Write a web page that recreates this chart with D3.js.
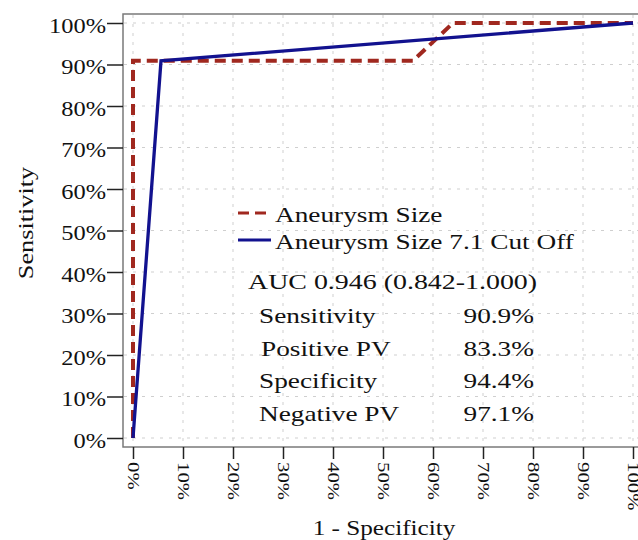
<!DOCTYPE html>
<html>
  <head>
    <meta charset="utf-8">
    <title>ROC Aneurysm Size</title>
    <script src="https://d3js.org/d3.v7.min.js"></script>
    <style>
      body { margin: 0; background: #fff; }
      svg text { font-family: "Liberation Serif", "Times New Roman", serif; fill: #111; }
    </style>
  </head>
  <body>
    <script>
      // ROC curves
      var seriesNames = ["Aneurysm Size", "Aneurysm Size 7.1 Cut Off"];
      var fprSize = [0, 0, 0.56, 0.64, 1];
      var tprSize = [0, 0.909, 0.909, 1, 1];
      var fprCut = [0, 0.056, 1];
      var tprCut = [0, 0.909, 1];

      var ticks = [0, 0.1, 0.2, 0.3, 0.4, 0.5, 0.6, 0.7, 0.8, 0.9, 1];
      var aucText = "AUC 0.946 (0.842-1.000)";
      var statLabels = ["Sensitivity", "Positive PV", "Specificity", "Negative PV"];
      var statValues = ["90.9%", "83.3%", "94.4%", "97.1%"];

      var width = 638, height = 540;
      var red = "#a0281f", blue = "#12128f";

      var svg = d3.select("body").append("svg")
        .attr("width", width)
        .attr("height", height);

      var x = d3.scaleLinear().domain([0, 1]).range([133, 633]);
      var y = d3.scaleLinear().domain([0, 1]).range([438, 23]);

      // grid
      var grid = svg.append("g").attr("stroke", "#cfcfcf").attr("stroke-dasharray", "3,6");
      grid.selectAll(".h").data(ticks).enter().append("line")
        .attr("x1", 124).attr("x2", 638)
        .attr("y1", function(d) { return y(d); })
        .attr("y2", function(d) { return y(d); });
      grid.selectAll(".v").data(ticks).enter().append("line")
        .attr("y1", 15).attr("y2", 446)
        .attr("x1", function(d) { return x(d); })
        .attr("x2", function(d) { return x(d); });

      // frame
      svg.append("rect")
        .attr("x", 123).attr("y", 14)
        .attr("width", 520).attr("height", 433)
        .attr("fill", "none")
        .attr("stroke", "#7a7a7a")
        .attr("stroke-width", 1.5);

      var fmt = d3.format(".0%");

      var yAxis = svg.append("g")
        .attr("transform", "translate(123,0)")
        .call(d3.axisLeft(y).tickValues(ticks).tickSize(16).tickFormat(fmt));
      yAxis.select(".domain").remove();
      yAxis.selectAll("line").attr("stroke", "#222").attr("stroke-width", 1.5);
      yAxis.selectAll("text")
        .attr("x", null).attr("dy", "0.45em")
        .attr("font-size", 20)
        .attr("text-anchor", "end")
        .attr("transform", "translate(-17,0) scale(1.22,1)");

      var xAxis = svg.append("g")
        .attr("transform", "translate(0,447)")
        .call(d3.axisBottom(x).tickValues(ticks).tickSize(12).tickFormat(fmt));
      xAxis.select(".domain").remove();
      xAxis.selectAll("line").attr("stroke", "#222").attr("stroke-width", 1.5);
      xAxis.selectAll("text")
        .attr("y", null).attr("dy", "0.35em")
        .attr("font-size", 16)
        .attr("text-anchor", "start")
        .attr("transform", "translate(0,15) rotate(90) scale(1.3,1)");

      // axis titles
      svg.append("text")
        .attr("font-size", 21)
        .attr("text-anchor", "middle")
        .attr("transform", "translate(33,223) rotate(-90) scale(1.25,1)")
        .text("Sensitivity");
      svg.append("text")
        .attr("font-size", 21)
        .attr("text-anchor", "middle")
        .attr("transform", "translate(384,535) scale(1.2,1)")
        .text("1 - Specificity");

      // curves
      var line = d3.line()
        .x(function(d) { return x(d[0]); })
        .y(function(d) { return y(d[1]); });

      svg.append("path")
        .datum(d3.zip(fprSize, tprSize))
        .attr("d", line)
        .attr("fill", "none")
        .attr("stroke", red)
        .attr("stroke-width", 4)
        .attr("stroke-dasharray", "11,6");

      svg.append("path")
        .datum(d3.zip(fprCut, tprCut))
        .attr("d", line)
        .attr("fill", "none")
        .attr("stroke", blue)
        .attr("stroke-width", 3.3);

      // legend
      var legend = svg.append("g");
      var legendY = [213, 240];
      legend.selectAll("line").data(seriesNames).enter().append("line")
        .attr("x1", 238).attr("x2", 271)
        .attr("y1", function(d, i) { return legendY[i]; })
        .attr("y2", function(d, i) { return legendY[i]; })
        .attr("stroke", function(d, i) { return i === 0 ? red : blue; })
        .attr("stroke-width", 3)
        .attr("stroke-dasharray", function(d, i) { return i === 0 ? "11,6" : null; });
      legend.selectAll("text").data(seriesNames).enter().append("text")
        .attr("font-size", 21)
        .attr("transform", function(d, i) { return "translate(275," + (legendY[i] + 9) + ") scale(1.3,1)"; })
        .text(function(d) { return d; });

      // stats
      svg.append("text")
        .attr("font-size", 21)
        .attr("transform", "translate(248,289) scale(1.33,1)")
        .text(aucText);

      var rowY = [323, 356, 388, 421];
      var rowX = [259, 261, 259, 259];
      svg.selectAll(".lab").data(statLabels).enter().append("text")
        .attr("font-size", 21)
        .attr("transform", function(d, i) { return "translate(" + rowX[i] + "," + rowY[i] + ") scale(1.3,1)"; })
        .text(function(d) { return d; });
      svg.selectAll(".val").data(statValues).enter().append("text")
        .attr("font-size", 21)
        .attr("text-anchor", "end")
        .attr("transform", function(d, i) { return "translate(534," + rowY[i] + ") scale(1.3,1)"; })
        .text(function(d) { return d; });
    </script>
  </body>
</html>
